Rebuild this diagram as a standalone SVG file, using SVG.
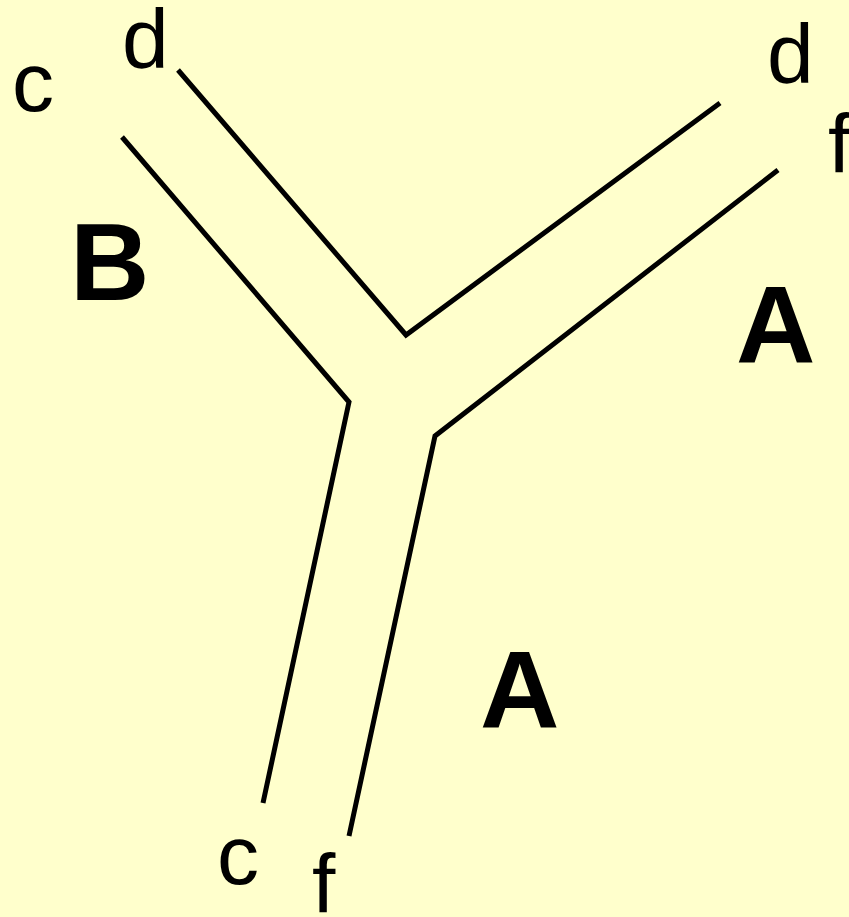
<svg xmlns="http://www.w3.org/2000/svg" width="849" height="917" viewBox="0 0 849 917">
<style>
.ln{fill:none;stroke:#000;stroke-width:5;stroke-linejoin:miter}
.s{font-family:"Liberation Sans",Arial,sans-serif;font-size:84px;fill:#000}
.b{font-family:"Liberation Sans",Arial,sans-serif;font-size:110px;font-weight:bold;fill:#000}
</style>
<rect width="849" height="917" fill="#FFFFCC"/>
<g id="connectors">
<polyline class="ln" points="122,137 349,402 263,803"/>
<polyline class="ln" points="178,70 406,335 720,103"/>
<polyline class="ln" points="778,170 435,436 349,836"/>
</g>
<g id="labels">
<text class="s" x="12" y="111">c</text>
<text class="s" x="122" y="68">d</text>
<text class="s" x="767" y="83">d</text>
<text class="s" x="828" y="173">f</text>
<text class="s" x="217" y="884">c</text>
<text class="s" x="312" y="913">f</text>
<text class="b" x="70" y="300">B</text>
<text class="b" x="736" y="362">A</text>
<text class="b" x="480" y="727">A</text>
</g>
</svg>
